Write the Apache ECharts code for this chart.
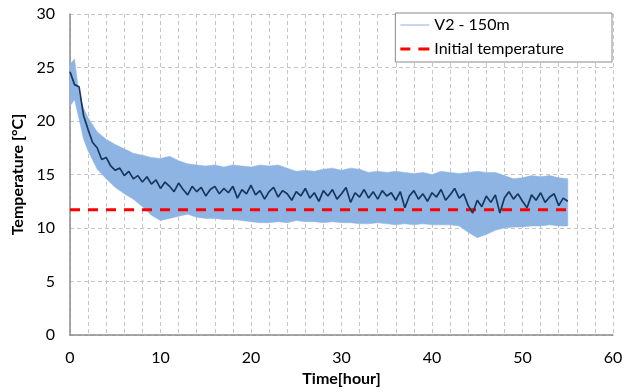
<!DOCTYPE html>
<html>
<head>
<meta charset="utf-8">
<script src="https://cdn.jsdelivr.net/npm/echarts@6/dist/echarts.min.js"></script>
<style>
  html, body { margin: 0; padding: 0; background: #fff; }
  #chart { width: 627px; height: 392px; }
</style>
</head>
<body>
<div id="chart"></div>
<script>
// band of the V2 - 150m readings (min / max envelope), hours
const bandTime = [0, 0.5, 1, 1.5, 2, 3, 4, 5, 6, 7, 8, 9, 10, 11, 12, 13, 14, 15, 16, 17, 18, 19, 20,
  21, 22, 23, 24, 25, 26, 27, 28, 29, 30, 31, 32, 33, 34, 35, 36, 37, 38, 39, 40,
  41, 42, 43, 44, 45, 46, 47, 48, 49, 50, 51, 52, 53, 54, 55];
const bandUpper = [25.3, 25.8, 22.5, 21.2, 20.3, 19.0, 18.3, 17.8, 17.4, 17.0, 16.8, 16.6, 16.5, 16.7, 16.3, 16.0, 15.9, 15.8, 15.9, 15.7, 15.9, 15.8, 15.7,
  15.9, 15.8, 15.9, 15.6, 15.3, 15.4, 15.3, 15.5, 15.6, 15.4, 15.6, 15.5, 15.2, 15.3, 15.2, 15.3, 15.2, 15.1, 15.2, 15.0,
  15.3, 15.2, 15.1, 15.2, 15.3, 15.2, 15.2, 14.9, 14.6, 14.7, 14.9, 14.8, 14.9, 14.7, 14.6];
const bandLower = [21.4, 22.0, 20.2, 18.3, 17.2, 15.5, 14.6, 13.8, 13.2, 12.7, 12.0, 11.2, 10.7, 10.9, 11.1, 11.3, 11.0, 10.9, 10.9, 10.8, 10.8, 10.7, 10.6,
  10.5, 10.5, 10.6, 10.5, 10.7, 10.6, 10.6, 10.5, 10.6, 10.5, 10.5, 10.4, 10.4, 10.5, 10.4, 10.3, 10.4, 10.3, 10.4, 10.3,
  10.3, 10.3, 10.2, 9.6, 9.1, 9.4, 9.8, 10.0, 10.1, 10.1, 10.2, 10.2, 10.3, 10.2, 10.2];

// dark averaged trace, every half hour
const meanTime = [];
for (let i = 0; i <= 110; i++) meanTime.push(i / 2);
const meanTemp = [24.6, 23.4, 23.2, 20.5, 19.2, 18.0, 17.5, 16.4, 16.6, 15.8, 15.4, 15.6, 14.9, 15.3, 14.6, 14.9, 14.3, 14.8, 14.1, 14.5,
  13.7, 14.3, 13.9, 13.4, 14.2, 13.6, 13.1, 13.9, 13.4, 13.8, 13.0, 13.6, 13.9, 13.2, 13.7, 13.3, 13.9, 12.8, 13.6, 13.2,
  14.0, 13.1, 13.5, 12.7, 13.4, 13.8, 12.9, 13.5, 13.2, 12.6, 13.4, 13.0, 13.7, 12.8, 13.3, 12.5, 13.5, 13.0, 13.6, 12.7,
  13.2, 13.8, 12.4, 13.3, 12.9, 13.6, 12.8, 13.4, 12.7, 13.5, 13.0, 13.3, 12.6, 13.4, 11.9, 13.0, 13.5, 12.7, 13.2, 12.5,
  13.3, 12.9, 13.6, 12.6, 13.1, 13.7, 12.8, 13.2, 12.1, 11.4, 12.6, 12.0, 13.0, 12.4, 13.1, 11.4, 12.8, 13.4, 12.7, 13.2,
  12.5, 11.9, 13.1, 12.6, 13.3, 12.4, 12.9, 13.2, 12.1, 12.8, 12.5];

const initTemp = 11.7;
const initSpan = [0, 55];

const font = "Lato, 'Open Sans', sans-serif";
const gridColor = "#c6c6c6";

const chart = echarts.init(document.getElementById("chart"));

// the light-blue band as one polygon: upper edge forward, lower edge back
function renderBand(params, api) {
  if (params.dataIndex !== 0) return null;
  const pts = [];
  for (let i = 0; i < bandTime.length; i++) pts.push(api.coord([bandTime[i], bandUpper[i]]));
  for (let i = bandTime.length - 1; i >= 0; i--) pts.push(api.coord([bandTime[i], bandLower[i]]));
  return {
    type: "polygon",
    shape: { points: pts },
    style: { fill: "#8db4e2", stroke: "#8db4e2", lineWidth: 0.5 }
  };
}

chart.setOption({
  animation: false,
  grid: { left: 70, right: 14, top: 14, bottom: 53 },
  legend: {
    right: 15,
    top: 13,
    orient: "vertical",
    backgroundColor: "#fff",
    borderColor: "#8a8a8a",
    borderWidth: 1,
    borderRadius: 0,
    padding: [4, 48, 5, 5],
    itemGap: 8,
    itemWidth: 29,
    itemHeight: 3,
    textStyle: { fontFamily: font, fontSize: 16, color: "#000" },
    data: [
      { name: "V2 - 150m", icon: "path://M0,1h29v1.5h-29z", itemStyle: { color: "#b3cbec" } },
      { name: "Initial temperature", icon: "path://M0,0h10v3h-10z M18,0h11v3h-11z", itemStyle: { color: "#ff0000" } }
    ]
  },
  xAxis: {
    type: "value",
    min: 0,
    max: 60,
    interval: 10,
    name: "Time[hour]",
    nameLocation: "middle",
    nameGap: 35,
    nameTextStyle: { fontFamily: font, fontSize: 16, fontWeight: "bold", color: "#000" },
    axisLine: { lineStyle: { color: "#8c8c8c", width: 1.5 } },
    axisTick: { show: false },
    axisLabel: { fontFamily: font, fontSize: 16, color: "#000", margin: 15 },
    splitLine: { show: true, lineStyle: { color: gridColor, type: [4, 3] } },
    minorTick: { show: false, splitNumber: 5 },
    minorSplitLine: { show: true, lineStyle: { color: gridColor, type: [4, 3] } }
  },
  yAxis: {
    type: "value",
    min: 0,
    max: 30,
    interval: 5,
    name: "Temperature [°C]",
    nameLocation: "middle",
    nameGap: 33,
    nameTextStyle: { fontFamily: font, fontSize: 16, fontWeight: "bold", color: "#000" },
    axisLine: { show: true, lineStyle: { color: "#8c8c8c", width: 1.5 } },
    axisTick: { show: false },
    axisLabel: { fontFamily: font, fontSize: 16, color: "#000", margin: 15 },
    splitLine: { show: true, lineStyle: { color: gridColor, type: [4, 3] } }
  },
  series: [
    {
      name: "V2 - 150m",
      type: "custom",
      renderItem: renderBand,
      silent: true,
      z: 2,
      itemStyle: { color: "#b3cbec" },
      encode: { x: 0, y: [1, 2] },
      data: bandTime.map((t, i) => [t, bandLower[i], bandUpper[i]])
    },
    {
      name: "Initial temperature",
      type: "line",
      symbol: "none",
      z: 3,
      lineStyle: { color: "#ff0000", width: 3, type: [10, 8] },
      itemStyle: { color: "#ff0000" },
      data: initSpan.map(t => [t, initTemp])
    },
    {
      name: "mean",
      type: "line",
      symbol: "none",
      z: 4,
      lineStyle: { color: "#17375e", width: 1.7 },
      data: meanTime.map((t, i) => [t, meanTemp[i]])
    }
  ]
});
</script>
</body>
</html>
